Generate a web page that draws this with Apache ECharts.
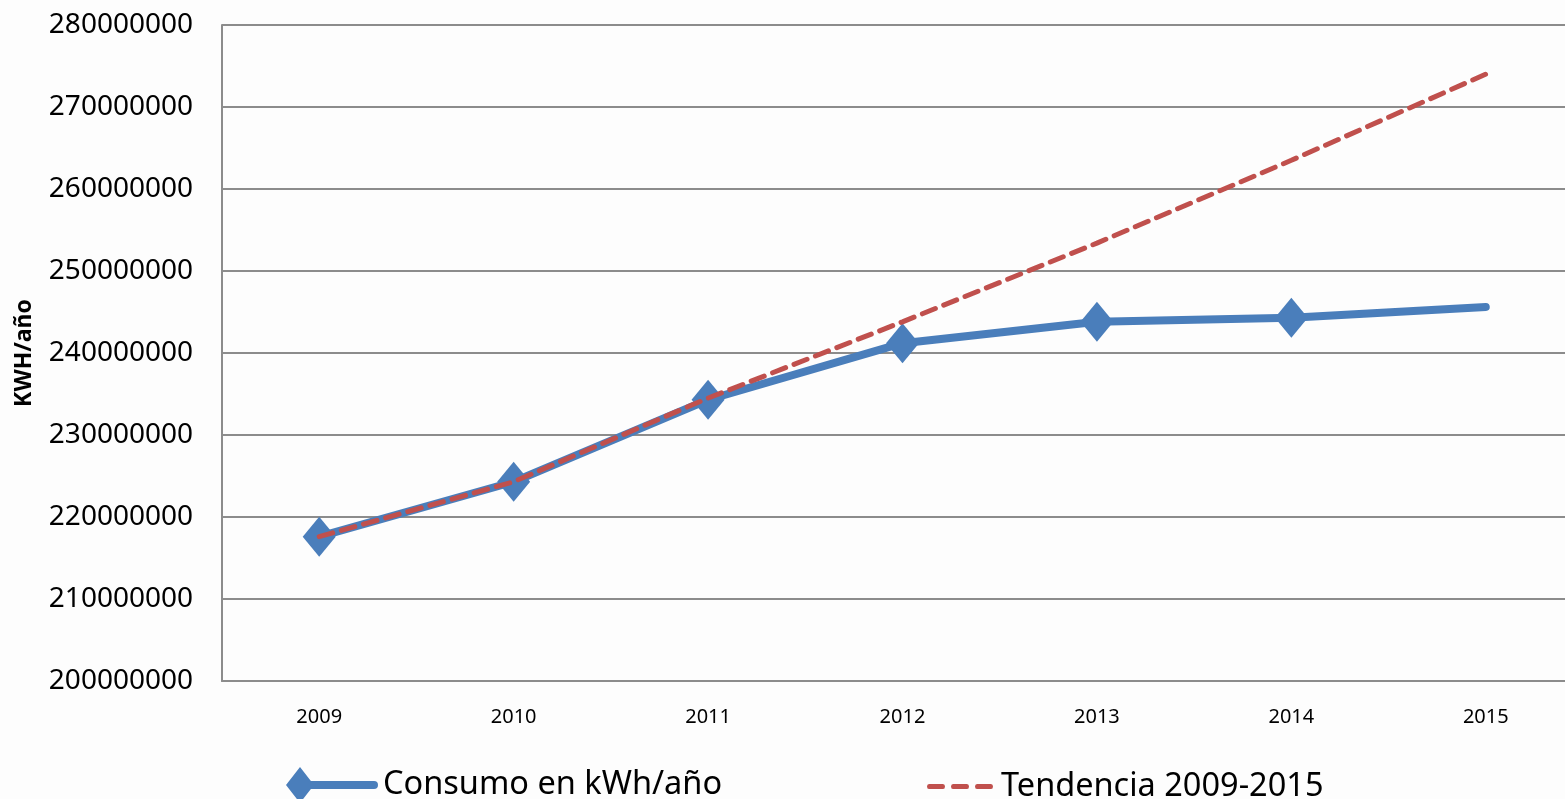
<html>
<head>
<meta charset="utf-8">
<script src="https://cdn.jsdelivr.net/npm/echarts@6/dist/echarts.min.js"></script>
</head>
<body style="margin:0; background:#fdfdfd; overflow:hidden;">
	<!-- el area del grafico sigue mas alla del borde derecho -->
	<div id="main" style="height: 799px; width: 1583px;"></div>

	<script type="text/javascript">
		// datos
		var years = [ '2009', '2010', '2011', '2012', '2013', '2014', '2015' ];
		var consumo = [ 217600000, 224300000, 234300000, 241200000, 243800000, 244300000, 245600000 ];
		var tendencia = [ 217600000, 224300000, 234500000, 243800000, 253400000, 263500000, 274000000 ];

		var myChart = echarts.init(document.getElementById('main'));
		var fontFam = '"Noto Sans", "Open Sans", sans-serif';

		// el ultimo punto de consumo no lleva rombo
		var consumoData = consumo.map(function(v, i) {
			if (i == consumo.length - 1) {
				return { value : v, symbol : 'none' };
			}
			return v;
		});

		option = {
			backgroundColor : '#fdfdfd',
			animation : false,
			grid : {
				left : 222,
				right : 0,
				top : 25,
				bottom : 118,
				outerBoundsMode : 'none'
			},
			legend : [ {
				left : 286,
				top : 767,
				padding : 0,
				itemWidth : 92,
				itemHeight : 36,
				textStyle : {
					fontSize : 32.5,
					color : '#000',
					fontFamily : fontFam
				},
				data : [ {
					name : 'Consumo en kWh/año',
					icon : 'path://M0,18 L14,0 L28,18 L14,36 Z M24,14 L88,14 Q92,14 92,18 Q92,22 88,22 L24,22 Z',
					itemStyle : { color : '#4a7ebb' }
				} ]
			}, {
				left : 927,
				top : 770,
				padding : 0,
				itemWidth : 72,
				itemHeight : 5,
				textStyle : {
					fontSize : 32.5,
					color : '#000',
					fontFamily : fontFam
				},
				data : [ {
					name : 'Tendencia 2009-2015',
					icon : 'path://M2,0 L16,0 Q18,0 18,2.5 Q18,5 16,5 L2,5 Q0,5 0,2.5 Q0,0 2,0 Z M26,0 L40,0 Q42,0 42,2.5 Q42,5 40,5 L26,5 Q24,5 24,2.5 Q24,0 26,0 Z M50,0 L64,0 Q66,0 66,2.5 Q66,5 64,5 L50,5 Q48,5 48,2.5 Q48,0 50,0 Z',
					itemStyle : { color : '#c0504d' }
				} ]
			} ],
			xAxis : {
				type : 'category',
				data : years,
				boundaryGap : true,
				axisLine : {
					lineStyle : {
						color : '#8c8c8c',
						width : 2
					}
				},
				axisTick : {
					show : false
				},
				axisLabel : {
					margin : 26,
					fontSize : 20,
					color : '#000',
					fontFamily : fontFam
				}
			},
			yAxis : {
				type : 'value',
				min : 200000000,
				max : 280000000,
				interval : 10000000,
				name : 'KWH/año',
				nameLocation : 'middle',
				nameGap : 186,
				nameTextStyle : {
					fontSize : 23,
					fontWeight : 'bold',
					color : '#000',
					fontFamily : fontFam
				},
				axisLine : {
					show : true,
					lineStyle : {
						color : '#8c8c8c',
						width : 2
					}
				},
				axisTick : {
					show : false
				},
				splitLine : {
					lineStyle : {
						color : '#8c8c8c',
						width : 2
					}
				},
				axisLabel : {
					margin : 29,
					fontSize : 28,
					color : '#000',
					fontFamily : fontFam,
					formatter : function(v) {
						return String(v);
					}
				}
			},
			series : [ {
				name : 'Consumo en kWh/año',
				type : 'line',
				data : consumoData,
				symbol : 'diamond',
				symbolSize : [ 33, 40 ],
				itemStyle : {
					color : '#4a7ebb'
				},
				lineStyle : {
					color : '#4a7ebb',
					width : 8,
					cap : 'round'
				},
				z : 2
			}, {
				name : 'Tendencia 2009-2015',
				type : 'line',
				data : tendencia,
				showSymbol : false,
				symbol : 'none',
				itemStyle : {
					color : '#c0504d'
				},
				lineStyle : {
					color : '#c0504d',
					width : 5,
					type : [ 14, 9 ],
					cap : 'round'
				},
				z : 3
			} ]
		};
		myChart.setOption(option);
	</script>
</body>
</html>
